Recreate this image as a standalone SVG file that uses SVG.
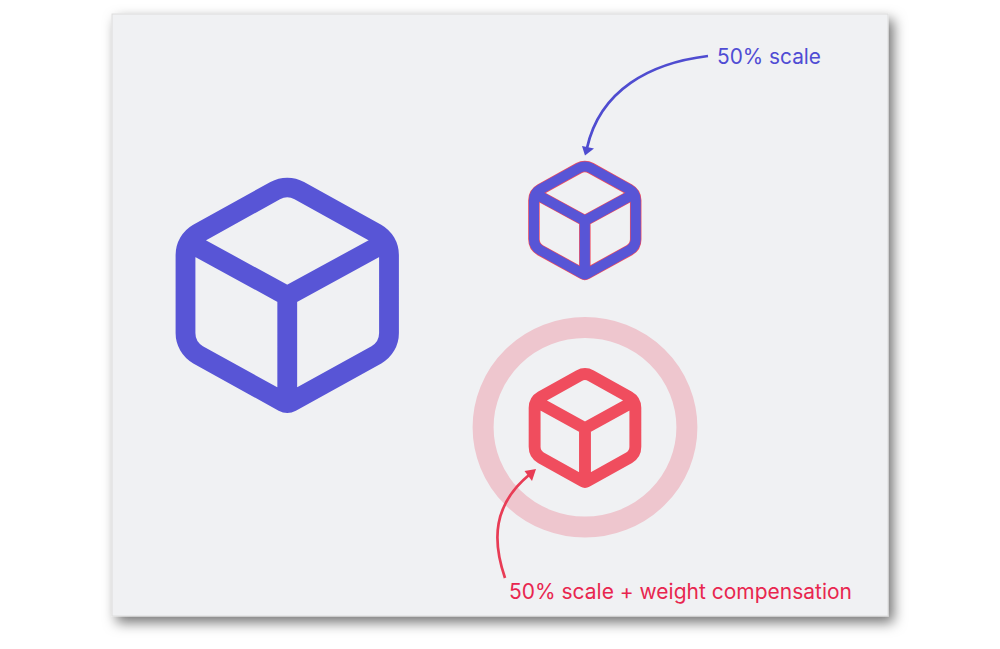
<svg xmlns="http://www.w3.org/2000/svg" width="1000" height="649" viewBox="0 0 1000 649">
<style>
.cube{fill:none;stroke-linejoin:round;stroke-linecap:butt}
.blue{stroke:#5855d6}
.red{stroke:#f04d5e}
text{font-family:"Inter","Liberation Sans",sans-serif;font-size:21px}
.bl{fill:#4f4cd4}
.rd{fill:#e8264f}
.conn{fill:none;stroke-width:2.7}
</style>
<defs>
<filter id="sh" x="-10%" y="-10%" width="120%" height="120%">
<feDropShadow dx="5" dy="6" stdDeviation="6.5" flood-color="#000" flood-opacity="0.55"/>
</filter>
<path id="cubeShape" d="M275.2 190.7A25 25 0 0 1 299.3 190.7L376.4 233.3A25 25 0 0 1 389 255.1V333A25 25 0 0 1 376.4 354.8L291.1 402A8 8 0 0 1 283.4 402L198.1 354.8A25 25 0 0 1 185.5 333V255.1A25 25 0 0 1 198.1 233.3ZM185.5 240.4L287.25 296L389 240.4M287.25 296V404"/>
</defs>
<rect id="panel" x="112" y="14" width="776" height="602" fill="#f0f1f3" stroke="#dcdcdc" stroke-width="1" filter="url(#sh)"/>
<g id="cube-large"><use href="#cubeShape" class="cube blue" stroke-width="19.8"/></g>
<g id="cube-scaled">
<g transform="translate(441.2 72.8) scale(.5)"><use href="#cubeShape" class="cube red" stroke-width="23"/></g>
<g transform="translate(441.2 72.8) scale(.5)"><use href="#cubeShape" class="cube blue" stroke-width="20.2"/></g>
</g>
<g id="cube-compensated">
<ellipse cx="585" cy="427.3" rx="101.9" ry="99.75" fill="none" stroke="#eec6ce" stroke-width="21"/>
<g transform="translate(442.8 280.3) scale(.495 .5)"><use href="#cubeShape" class="cube red" stroke-width="24"/></g>
</g>
<g id="connectors">
<path class="conn" stroke="#4f4cd0" d="M708 56C650 63 600 90 587 148"/>
<polygon fill="#4f4cd0" points="585,155.5 582,146 594,148.5"/>
<path class="conn" stroke="#e83c55" d="M505 578C492 540 493 505 529 475"/>
<polygon fill="#e83c55" points="536,469 524.5,471 532,481"/>
</g>
<g id="label-scale"><text class="bl" x="717" y="64" textLength="104" lengthAdjust="spacingAndGlyphs">50% scale</text></g>
<g id="label-compensation"><text class="rd" x="509" y="599" textLength="343" lengthAdjust="spacingAndGlyphs">50% scale + weight compensation</text></g>
</svg>
